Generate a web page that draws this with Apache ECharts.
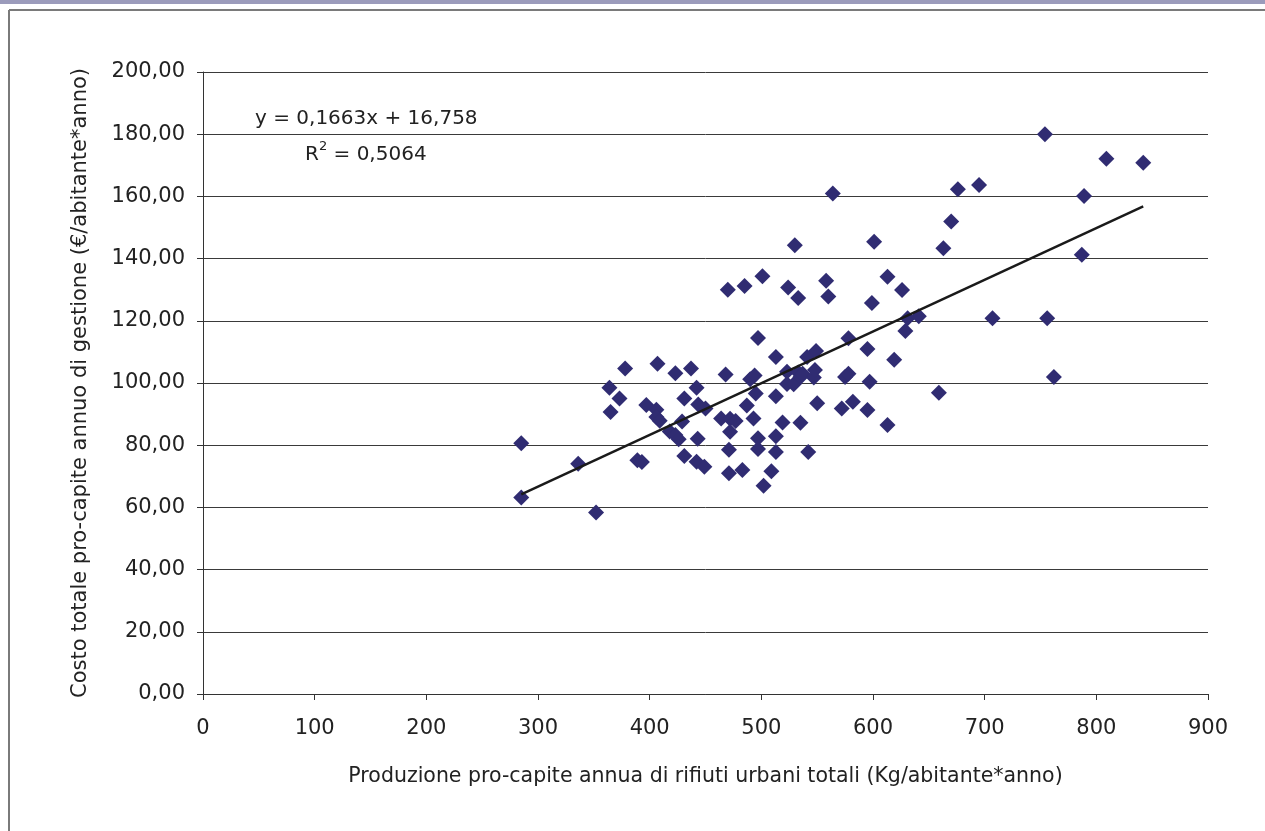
<!DOCTYPE html>
<html>
<head>
<meta charset="utf-8">
<script src="https://cdn.jsdelivr.net/npm/echarts@6/dist/echarts.min.js"></script>
<style>
html,body{margin:0;padding:0;background:#fff;}
#c{width:1265px;height:831px;}
</style>
</head>
<body>
<div id="c"></div>
<script>
// Production per capita (kg/inhabitant*year)
const xValues = [285,285,336,352,364,365,373,378,389,393,397,406,407,406,409,418,423,423,426,429,431,431,437,442,443,442,443.5,449,450,464,468,470,471,471,472,472,477,483,485,487,490,493,494,495,497,497,497,501,502,509,513,513,513,513,519,524,523,523,530,529,533,533,535,535,537,541,542,547,549,550,548,558,560,564,572,575,578,578,582,595,595,597,599,601,613,613,619,626,629,631,641,659,663,670,676,695,707,754,756,762,787,789,809,842];
// Total cost per capita (€/inhabitant*year)
const yValues = [80.6,63.2,74,58.4,98.5,90.7,95,104.7,75.2,74.6,92.9,91.4,106.2,89.1,87.9,84.4,103.1,83.3,81.9,87.6,95,76.5,104.7,98.5,82.1,74.7,93.1,73.1,91.8,88.6,102.7,130,78.5,71,84.3,88.5,87.8,72,131.2,92.8,101.2,88.6,102.4,96.6,114.5,82.2,78.8,134.3,67,71.6,95.7,82.9,108.4,77.8,87.3,130.7,103.6,99.7,144.3,99.6,127.3,103.4,101.9,87.2,103,108.4,77.8,101.8,110.3,93.5,104.2,132.9,127.8,160.9,91.8,101.9,103,114.4,94,110.9,91.3,100.4,125.7,145.4,134.2,86.5,107.5,129.9,116.7,120.8,121.5,96.9,143.3,151.9,162.3,163.7,120.8,180,120.8,101.9,141.2,160.1,172.1,170.8];
const trendSlope = 0.1663;
const trendIntercept = 16.758;
const equationLabel = 'y = 0,1663x + 16,758';
const r2Value = '0,5064';
const xTicks = [0,100,200,300,400,500,600,700,800,900];
const yTicks = [0,20,40,60,80,100,120,140,160,180,200];
const xTitle = 'Produzione pro-capite annua di rifiuti urbani totali (Kg/abitante*anno)';
const yTitle = 'Costo totale pro-capite annuo di gestione (€/abitante*anno)';

const points = xValues.map((x, i) => [x, yValues[i]]);
const xMin = Math.min(...xValues), xMax = Math.max(...xValues);
const trend = [[xMin, trendSlope * xMin + trendIntercept], [xMax, trendSlope * xMax + trendIntercept]];

const FONT = '"DejaVu Sans", sans-serif';
const chart = echarts.init(document.getElementById('c'), null, {renderer: 'canvas'});
chart.setOption({
  animation: false,
  backgroundColor: '#ffffff',
  grid: {left: 203, right: 57, top: 72, bottom: 137, containLabel: false},
  xAxis: {
    type: 'value', min: xTicks[0], max: xTicks[xTicks.length - 1], interval: 100,
    name: xTitle, nameLocation: 'middle', nameGap: 72,
    nameTextStyle: {fontFamily: FONT, fontSize: 20.5, color: '#222'},
    axisLine: {show: true, lineStyle: {color: '#333', width: 1}},
    axisTick: {show: true, length: 6, inside: false, lineStyle: {color: '#333'}},
    axisLabel: {fontFamily: FONT, fontSize: 21, color: '#222', margin: 24},
    splitLine: {show: false}
  },
  yAxis: {
    type: 'value', min: yTicks[0], max: yTicks[yTicks.length - 1], interval: 20,
    name: yTitle, nameLocation: 'middle', nameGap: 112, nameRotate: 90,
    nameTextStyle: {fontFamily: FONT, fontSize: 21, color: '#222'},
    axisLine: {show: true, lineStyle: {color: '#333', width: 1}},
    axisTick: {show: true, length: 6, lineStyle: {color: '#333'}},
    axisLabel: {fontFamily: FONT, fontSize: 21, color: '#222', margin: 18,
      formatter: v => v.toFixed(2).replace('.', ',')},
    splitLine: {show: true, lineStyle: {color: '#3a3a3a', width: 1}}
  },
  series: [
    {
      type: 'scatter', data: points, symbol: 'diamond', symbolSize: 16,
      itemStyle: {color: '#302C72', opacity: 1}, z: 3
    },
    {
      type: 'line', data: trend, symbol: 'none', silent: true,
      lineStyle: {color: '#1a1a1a', width: 2.5}, z: 4
    }
  ],
  graphic: [
    {type: 'rect', shape: {x: 0, y: 0, width: 1265, height: 4}, style: {fill: '#9b9bbb'}},
    {type: 'line', shape: {x1: 9, y1: 10, x2: 1265, y2: 10}, style: {stroke: '#7a7a7a', lineWidth: 2}},
    {type: 'line', shape: {x1: 9, y1: 10, x2: 9, y2: 831}, style: {stroke: '#7a7a7a', lineWidth: 2}},
    {type: 'text', left: 255, top: 109, style: {text: equationLabel, font: '20px ' + FONT, fill: '#222'}},
    {type: 'text', left: 305, top: 140, style: {
      text: '{a|R}{s|2}{a| = ' + r2Value + '}',
      rich: {
        a: {fontFamily: FONT, fontSize: 20, fill: '#222', color: '#222', verticalAlign: 'bottom', lineHeight: 25},
        s: {fontFamily: FONT, fontSize: 13, fill: '#222', color: '#222', verticalAlign: 'top', lineHeight: 25, padding: [0,0,10,0]}
      }
    }}
  ]
});
</script>
</body>
</html>
